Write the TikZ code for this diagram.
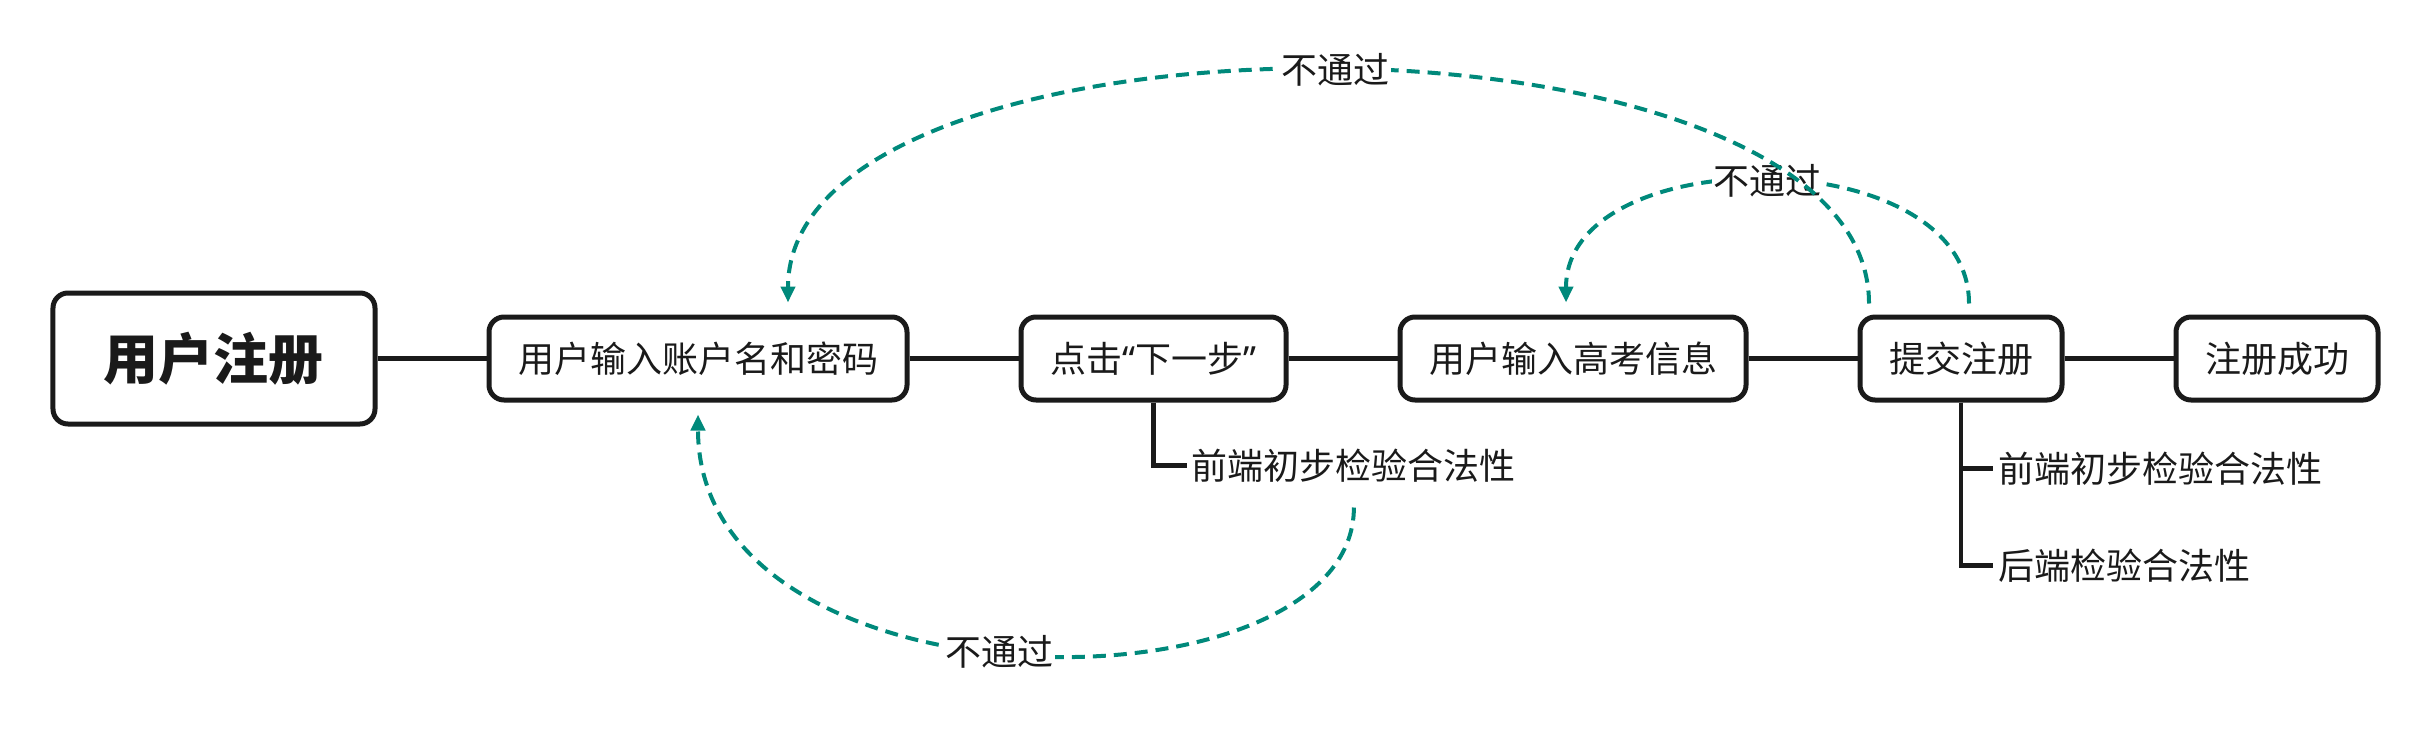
\documentclass[tikz,border=0pt]{standalone}
\usepackage{fontspec}
\setmainfont{Noto Sans CJK SC}
\newfontfamily\quotefont{Noto Sans}
\usepackage{tikz}
\usetikzlibrary{positioning, arrows.meta}
\definecolor{lineblack}{HTML}{1A1A1A}
\definecolor{failteal}{HTML}{00897B}
\tikzstyle{stepbox} = [rectangle, rounded corners=7.5pt, draw=lineblack, line width=2.5pt, fill=white, text=lineblack, minimum height=41.5pt, inner xsep=14.5pt, font=\fontsize{18pt}{20pt}\selectfont]
\tikzstyle{titlebox} = [stepbox, minimum height=65.5pt, inner xsep=25.5pt, font=\fontsize{27.5pt}{30pt}\selectfont\bfseries]
\tikzstyle{link} = [line width=2.5pt, draw=lineblack]
\tikzstyle{branch} = [line width=2.2pt, draw=lineblack]
\tikzstyle{check} = [anchor=west, inner sep=2.5pt, text=lineblack, font=\fontsize{18pt}{20pt}\selectfont]
\tikzstyle{fail} = [draw=failteal, line width=2pt, dash pattern=on 6.5pt off 4pt, -{Triangle[length=8pt,width=7pt]}]
\tikzstyle{failnote} = [fill=white, inner sep=1pt, text=lineblack, font=\fontsize{18pt}{20pt}\selectfont]

\begin{document}
\begin{tikzpicture}[node distance=54.5pt]
\useasboundingbox (-107pt,-185.75pt) rectangle (1107pt,179.25pt);

% Main steps
\node (reg) [titlebox] {用户注册};
\node (account) [stepbox, right=of reg] {用户输入账户名和密码};
\node (next) [stepbox, right=of account, minimum width=132.5pt] {点击{\quotefont “}下一步{\quotefont ”}};
\node (gaokao) [stepbox, right=of next] {用户输入高考信息};
\node (submit) [stepbox, right=of gaokao] {提交注册};
\node (done) [stepbox, right=of submit] {注册成功};

% Checks
\node (checka) [check] at ([xshift=16.5pt,yshift=-31.5pt]next.south) {前端初步检验合法性};
\node (checkb) [check] at ([xshift=16pt,yshift=-33pt]submit.south) {前端初步检验合法性};
\node (checkc) [check] at ([xshift=16pt,yshift=-81.5pt]submit.south) {后端检验合法性};

% Connections
\draw [link] (reg) -- (account);
\draw [link] (account) -- (next);
\draw [link] (next) -- (gaokao);
\draw [link] (gaokao) -- (submit);
\draw [link] (submit) -- (done);
\draw [branch] (next.south) |- (checka.west);
\draw [branch] (submit.south) |- (checkb.west);
\draw [branch] (submit.south) |- (checkc.west);

% Failed checks go back
\draw [fail] ([yshift=-21pt]checka.center) .. controls +(0,-105pt) and +(0,-152.5pt) .. ([yshift=-6pt]account.south) node [failnote, pos=0.527] {不通过};
\draw [fail] ([xshift=4pt,yshift=5.5pt]submit.north) .. controls +(0,82pt) and +(0,81.5pt) .. ([xshift=-3.5pt,yshift=6pt]gaokao.north) node [failnote, pos=0.5] {不通过};
\draw [fail] ([xshift=-46pt,yshift=5.5pt]submit.north) .. controls +(0,155.5pt) and +(0,155pt) .. ([xshift=45pt,yshift=6pt]account.north) node [failnote, pos=0.496] {不通过};

\end{tikzpicture}
\end{document}
